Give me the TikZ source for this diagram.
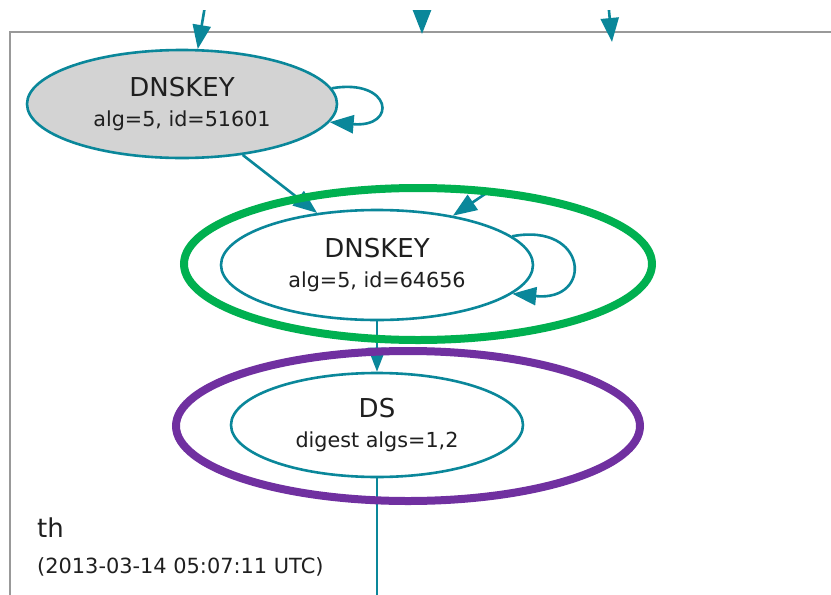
\documentclass[tikz,border=0pt]{standalone}
\usepackage{fontspec}
\setmainfont{DejaVu Sans}
\usetikzlibrary{shapes.geometric,arrows.meta}
\definecolor{edgeteal}{HTML}{0A879A}
\definecolor{keygray}{HTML}{D3D3D3}
\definecolor{framegray}{HTML}{999999}
\definecolor{ringgreen}{HTML}{00B050}
\definecolor{ringpurple}{HTML}{7030A0}
\tikzset{
  rr/.style={shape=ellipse, draw=edgeteal, line width=2.6pt, inner sep=0pt,
    align=center, text=black!88},
  edge/.style={draw=edgeteal, line width=2.6pt,
    -{Triangle[length=24pt,width=18pt]}},
  plainedge/.style={draw=edgeteal, line width=2.6pt},
  ring/.style={shape=ellipse, line width=8pt, inner sep=0pt},
}
\newcommand{\rtype}[1]{{\fontsize{26}{28}\selectfont #1}}
\newcommand{\rsub}[1]{{\fontsize{20.7}{24}\selectfont #1}}
\begin{document}
\begin{tikzpicture}[x=1pt,y=-1pt]
\useasboundingbox (0,0) rectangle (831,595);
\fill[white] (0,0) rectangle (831,595);
\begin{scope}
\clip (0,10) rectangle (831,595);

% zone frame
\draw[framegray, line width=2pt] (10,640) -- (10,32) -- (850,32);

% records
\node[rr, fill=keygray, minimum width=310pt, minimum height=108pt] (k1) at (182,104)
  {\rtype{DNSKEY}\\[12pt]\rsub{alg=5, id=51601}};
\node[rr, fill=white, minimum width=312pt, minimum height=110pt] (k2) at (377,265)
  {\rtype{DNSKEY}\\[12pt]\rsub{alg=5, id=64656}};
\node[rr, fill=white, minimum width=292pt, minimum height=104pt] (ds) at (377,425)
  {\rtype{DS}\\[12pt]\rsub{digest algs=1,2}};

% edges entering from above
\coordinate (inA) at (206,0);
\coordinate (inB) at (422,-14);
\coordinate (inBtip) at (422,34);
\coordinate (inC) at (607,-10);
\coordinate (inCtip) at (612,42);
\coordinate (inD) at (488,192);
\coordinate (down) at (377,610);

\draw[edge] (inA) -- (k1.74);
\draw[edge] (inB) -- (inBtip);
\draw[edge] (inC) -- (inCtip);

% signatures and delegation
\draw[edge] (k1.6) .. controls (392,78) and (398,128) .. (k1.-7);
\draw[edge] (k1.-40) -- (k2.139);
\draw[edge] (inD) -- (k2.33);
\draw[edge] (k2.12) .. controls (588,222) and (594,302) .. (k2.-12);
\draw[edge] (k2.south) -- (ds.north);
\draw[plainedge] (ds.south) -- (down);

% highlight rings
\node[ring, draw=ringgreen, minimum width=468pt, minimum height=152pt] (g) at (418,264) {};
\node[ring, draw=ringpurple, minimum width=464pt, minimum height=150pt] (p) at (408,426) {};

% zone label
\node[anchor=base west, inner sep=0pt, text=black!88, font=\fontsize{26}{28}\selectfont] (zn) at (37,537) {th};
\node[anchor=base west, inner sep=0pt, text=black!88, font=\fontsize{20.9}{24}\selectfont] (zt) at (37,573) {(2013-03-14 05:07:11 UTC)};
\end{scope}
\end{tikzpicture}
\end{document}
